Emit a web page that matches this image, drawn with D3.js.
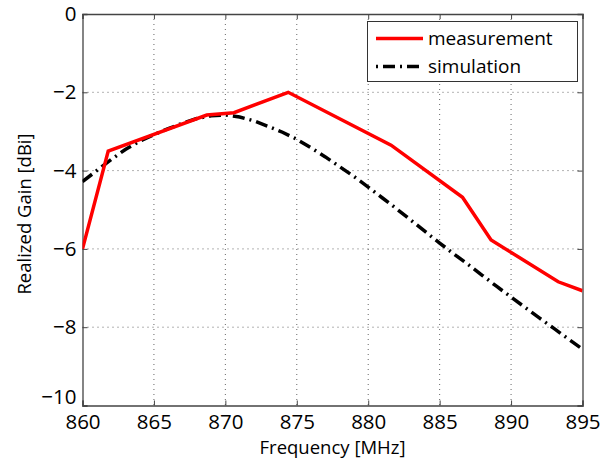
<!DOCTYPE html>
<html><head><meta charset="utf-8">
<script src="https://cdn.jsdelivr.net/npm/d3@7"></script>
<style>body{margin:0;background:#fff}svg{display:block}text{font-family:"Open Sans","Noto Sans",sans-serif;fill:#000}</style>
</head><body>
<svg id="c" width="609" height="459"></svg>
<script>
const xTicks = [860,865,870,875,880,885,890,895];
const yTicks = [0,-2,-4,-6,-8,-10];
const measFreq = [860,861.8,868.7,870.6,874.4,881.6,886.6,888.6,893.3,895];
const measGain = [-6.0,-3.5,-2.58,-2.52,-2.0,-3.35,-4.68,-5.77,-6.84,-7.07];
const simFreq = [860,861,862,863,864,865,866,867,868,869,870,871,872,873,874,875,876,877,878,879,880,881,882,883,884,885,886,887,888,889,890,891,892,893,894,895];
const simGain = [-4.28,-4.0,-3.72,-3.46,-3.25,-3.08,-2.93,-2.79,-2.67,-2.6,-2.58,-2.63,-2.73,-2.87,-3.02,-3.2,-3.42,-3.65,-3.9,-4.15,-4.42,-4.7,-4.98,-5.27,-5.56,-5.85,-6.13,-6.4,-6.68,-6.96,-7.23,-7.5,-7.77,-8.03,-8.3,-8.56];
const seriesNames = ["measurement","simulation"];

const L=82.5,R=582.5,T=14,B=405.5;
const svg=d3.select("#c");
const x=d3.scaleLinear().domain([860,895]).range([L,R]);
const y=d3.scaleLinear().domain([-10,0]).range([B,T]);

// grid
const g=svg.append("g");
g.selectAll(".gx").data(xTicks.slice(1,-1)).join("line")
 .attr("x1",d=>x(d)).attr("x2",d=>x(d)).attr("y1",T).attr("y2",B)
 .attr("stroke","#666").attr("stroke-width",1).attr("stroke-dasharray","1,4");
g.selectAll(".gy").data(yTicks.slice(1,-1)).join("line")
 .attr("y1",d=>y(d)).attr("y2",d=>y(d)).attr("x1",L).attr("x2",R)
 .attr("stroke","#666").attr("stroke-width",1).attr("stroke-dasharray","1,4");

// axes with inward ticks
const ax=d3.axisBottom(x).tickValues(xTicks).tickSize(-5).tickPadding(8.5).tickFormat(d3.format("d"));
const ay=d3.axisLeft(y).tickValues(yTicks).tickSize(-5).tickPadding(6).tickFormat(d=>d<0?"\u2212"+(-d):d);
const axT=d3.axisTop(x).tickValues(xTicks).tickSize(-5).tickFormat("");
const ayR=d3.axisRight(y).tickValues(yTicks).tickSize(-5).tickFormat("");
function style(sel){sel.select(".domain").attr("stroke","#444").attr("stroke-width",1.3);sel.selectAll(".tick line").attr("stroke","#444");sel.selectAll("text").attr("font-size",20.5).attr("fill","#000");}
svg.append("g").attr("transform",`translate(0,${B})`).call(ax).call(style);
svg.append("g").attr("transform",`translate(${L},0)`).call(ay).call(style)
 .selectAll(".tick text").attr("dy",d=>d===-10?"-0.1em":"0.32em");
svg.append("g").attr("transform",`translate(0,${T})`).call(axT).call(style);
svg.append("g").attr("transform",`translate(${R},0)`).call(ayR).call(style);

// labels
svg.append("text").attr("x",(L+R)/2).attr("y",453.5).attr("text-anchor","middle").attr("font-size",18.5).text("Frequency [MHz]");
svg.append("text").attr("transform",`translate(31,214) rotate(-90)`).attr("text-anchor","middle").attr("font-size",18.5).text("Realized Gain [dBi]");

// lines
const line=d3.line().x(d=>x(d[0])).y(d=>y(d[1]));
svg.append("clipPath").attr("id","pc").append("rect").attr("x",L).attr("y",T).attr("width",R-L).attr("height",B-T);
svg.append("path").datum(simFreq.map((f,i)=>[f,simGain[i]])).attr("d",line)
 .attr("fill","none").attr("stroke","#000").attr("stroke-width",3.5).attr("stroke-dasharray","12,5,2,5").attr("clip-path","url(#pc)");
svg.append("path").datum(measFreq.map((f,i)=>[f,measGain[i]])).attr("d",line)
 .attr("fill","none").attr("stroke","#f00").attr("stroke-width",3.5).attr("stroke-linejoin","miter").attr("clip-path","url(#pc)");

// legend
const lg=svg.append("g");
lg.append("rect").attr("x",367.5).attr("y",21.5).attr("width",210).attr("height",60).attr("fill","#fff").attr("stroke","#333").attr("stroke-width",1);
lg.append("line").attr("x1",376).attr("x2",423).attr("y1",38.5).attr("y2",38.5).attr("stroke","#f00").attr("stroke-width",3.5);
lg.append("line").attr("x1",376).attr("x2",423).attr("y1",66.5).attr("y2",66.5).attr("stroke","#000").attr("stroke-width",3.5).attr("stroke-dasharray","2,5,12,5");
lg.selectAll(".lt").data(seriesNames).join("text").attr("x",428).attr("y",(d,i)=>38.5+i*28).attr("dy","0.33em").attr("font-size",19).text(d=>d);
</script>
</body></html>
